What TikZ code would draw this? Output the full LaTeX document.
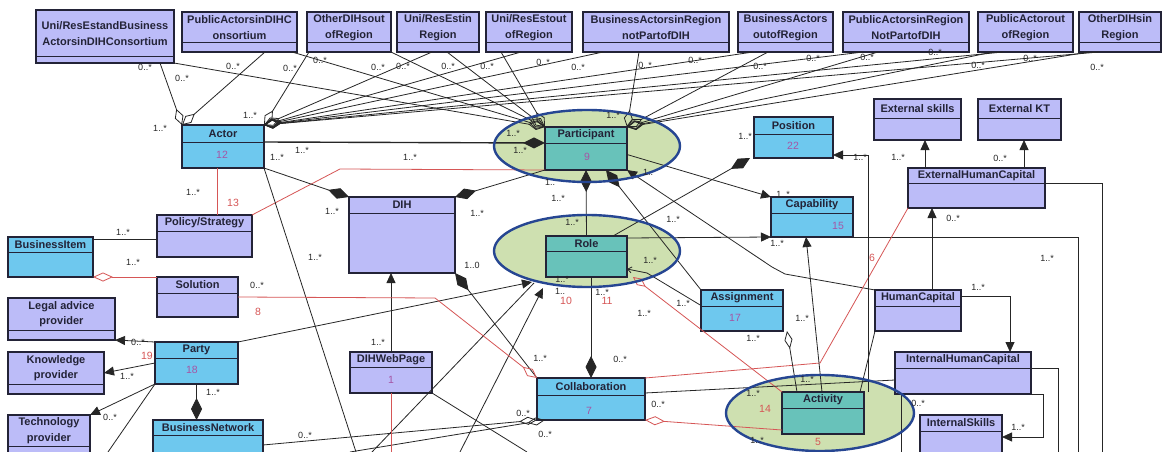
\documentclass[tikz,border=0pt]{standalone}
\usepackage{fontspec}
\setmainfont{Liberation Sans}
\usetikzlibrary{arrows.meta,calc}
\definecolor{lav}{RGB}{188,188,248}
\definecolor{cyanbox}{RGB}{110,200,238}
\definecolor{tealbox}{RGB}{104,194,186}
\definecolor{ellfill}{RGB}{206,224,176}
\definecolor{ellline}{RGB}{38,70,146}
\definecolor{redln}{RGB}{214,86,86}
\definecolor{numcol}{RGB}{165,85,165}
\definecolor{ink}{RGB}{35,35,55}
\tikzset{
  clsbox/.style={draw=ink, line width=1.1pt, inner sep=0pt, outer sep=0pt},
  clsline/.style={draw=ink, line width=1pt},
  clsttl/.style={font=\bfseries\fontsize{11}{15.5}\selectfont, text=ink, align=center, inner sep=0pt},
  mult/.style={font=\fontsize{9}{10}\selectfont, text=black!85, inner sep=1pt},
  numlbl/.style={font=\fontsize{10.5}{11}\selectfont, text=numcol},
  rednum/.style={font=\fontsize{10.5}{11}\selectfont, text=redln},
  conn/.style={draw=black!85, line width=0.8pt},
  redl/.style={draw=redln, line width=0.8pt},
  agg/.style={conn, -{Diamond[open, length=17pt, width=9pt]}},
  comp/.style={conn, -{Diamond[length=22pt, width=11pt]}},
  nav/.style={conn, -{Triangle[length=10pt, width=9pt]}},
  ell/.style={line width=2.4pt, draw=ellline},
}
\newcommand{\umlbox}[8]{%
  \node[clsbox, fill=#7, minimum width={(#4-#2)*1pt}, minimum height={(#5-#3)*1pt}, anchor=north west] (#1) at (#2,#3) {};
  \draw[clsline] (#2,#6) coordinate (#1-hl) -- (#4,#6) coordinate (#1-hr);
  \node[clsttl] (#1-t) at ({(#2+#4)/2},{(#3+#6)/2}) {#8};}
\begin{document}
\begin{tikzpicture}[x=1pt,y=-1pt]
  \useasboundingbox (0,0) rectangle (1168,452);
  \clip (0,0) rectangle (1168,452);
  \fill[white] (0,0) rectangle (1168,452);

  \fill[ellfill] (587,146) ellipse [x radius=93, y radius=36];
  \fill[ellfill] (587,251) ellipse [x radius=93, y radius=36];
  \fill[ellfill] (820,413) ellipse [x radius=94, y radius=38];

  \umlbox{t1}{36}{10}{174}{63}{57}{lav}{Uni/ResEstandBusiness\\ActorsinDIHConsortium}
  \umlbox{t2}{182}{12}{297}{52}{43}{lav}{PublicActorsinDIHC\\onsortium}
  \umlbox{t3}{307}{12}{391}{52}{43}{lav}{OtherDIHsout\\ofRegion}
  \umlbox{t4}{397}{12}{479}{52}{43}{lav}{Uni/ResEstin\\Region}
  \umlbox{t5}{486}{12}{572}{52}{43}{lav}{Uni/ResEstout\\ofRegion}
  \umlbox{t6}{583}{12}{729}{52}{43}{lav}{BusinessActorsinRegion\\notPartofDIH}
  \umlbox{t7}{738}{12}{833}{52}{43}{lav}{BusinessActors\\outofRegion}
  \umlbox{t8}{843}{12}{969}{52}{43}{lav}{PublicActorsinRegion\\NotPartofDIH}
  \umlbox{t9}{978}{12}{1073}{52}{43}{lav}{PublicActorout\\ofRegion}
  \umlbox{t10}{1079}{12}{1161}{52}{43}{lav}{OtherDIHsin\\Region}

  \umlbox{actor}{182}{125}{264}{168}{142}{cyanbox}{Actor}
  \umlbox{part}{545}{127}{627}{170}{143}{tealbox}{Participant}
  \umlbox{pos}{754}{117}{833}{158}{134}{cyanbox}{Position}
  \umlbox{cap}{771}{197}{853}{237}{213}{cyanbox}{Capability}
  \umlbox{exsk}{874}{99}{961}{140}{118}{lav}{External skills}
  \umlbox{exkt}{978}{99}{1061}{140}{118}{lav}{External KT}
  \umlbox{ehc}{908}{168}{1045}{208}{183}{lav}{ExternalHumanCapital}
  \umlbox{dih}{349}{197}{455}{273}{213}{lav}{DIH}
  \umlbox{pol}{157}{215}{252}{257}{231}{lav}{Policy/Strategy}
  \umlbox{bi}{8}{237}{93}{277}{252}{cyanbox}{BusinessItem}
  \umlbox{sol}{157}{277}{238}{317}{293}{lav}{Solution}
  \umlbox{role}{546}{236}{627}{277}{251}{tealbox}{Role}
  \umlbox{asg}{701}{290}{783}{331}{306}{cyanbox}{Assignment}
  \umlbox{hc}{875}{290}{961}{331}{306}{lav}{HumanCapital}
  \umlbox{ihc}{895}{352}{1031}{394}{368}{lav}{InternalHumanCapital}
  \umlbox{isk}{920}{415}{1002}{470}{431}{lav}{InternalSkills}
  \umlbox{legal}{8}{298}{115}{340}{330}{lav}{Legal advice\\provider}
  \umlbox{know}{8}{352}{104}{394}{384}{lav}{Knowledge\\provider}
  \umlbox{tech}{8}{415}{90}{470}{446}{lav}{Technology\\provider}
  \umlbox{party}{155}{342}{238}{384}{358}{cyanbox}{Party}
  \umlbox{bn}{153}{420}{263}{470}{435}{cyanbox}{BusinessNetwork}
  \umlbox{web}{350}{352}{432}{393}{367}{lav}{DIHWebPage}
  \umlbox{coll}{537}{378}{645}{420}{395}{cyanbox}{Collaboration}
  \umlbox{act}{782}{392}{864}{434}{408}{tealbox}{Activity}

  % actors from the top row
  \foreach \bx/\dx in {t1/124,t2/83}
    \draw[agg] ([xshift=\dx pt]\bx.south west) -- (actor.north west);
  \foreach \bx/\dx in {t3/2,t4/35,t5/35,t6/20,t7/15,t8/20,t9/25,t10/20}
    \draw[agg] ([xshift=\dx pt]\bx.south west) -- (actor.north east);
  \foreach \bx/\dx in {t1/138,t2/110,t3/84,t4/50,t5/15}
    \draw[agg] ([xshift=\dx pt]\bx.south west) -- (part.north west);
  \foreach \bx/\dx in {t6/56,t7/30,t8/35,t9/15,t10/10}
    \draw[agg] ([xshift=\dx pt]\bx.south west) -- (part.north east);

  \draw[comp, line width=1.4pt] (actor-hr) -- (part-hl);
  \draw[redl] ([xshift=-6pt]actor.south) -- ([xshift=-6pt]actor.south |- pol.north);
  \draw[redl] (pol.north east) -- (340,169) -- (part.south west);
  \draw[conn] ([yshift=-2pt]bi.north east) -- ([yshift=-2pt]bi.north east -| pol.west);
  \draw[redl, {Diamond[open, length=20pt, width=9pt]}-] (bi.south east) -- (sol.north west);
  \draw[comp] (actor.south east) -- (dih.north west);
  \coordinate (e1) at (356,452);
  \draw[conn] (actor.south east) -- (e1);
  \draw[comp] (part.south west) -- (dih.north east);
  \draw[nav] ([yshift=-6pt]part.east) -- (cap.north west);
  \draw[conn, {Diamond[length=22pt, width=11pt]}-] ([xshift=-4pt]pos.south west) -- ([xshift=-14pt]role.north east);
  \draw[comp] (role.north) -- (part.south);
  \draw[comp] (asg.north west) -- ([xshift=20pt]part.south);
  \draw[nav] (hc.north west) -- (785,274) -- (772,267) -- (part.south east);
  \draw[nav] ([yshift=-2pt]role.north east) -- (cap.south west);
  \coordinate (e2) at (1078,452);
  \draw[conn] (cap.south east) -| (e2);
  \draw[conn, -{Straight Barb[length=4pt, width=6pt]}] ([yshift=5pt]asg.west) -- (647,273) -- ([yshift=8pt]role.south east);
  \draw[comp] (role.south -| coll.north) -- (coll.north);
  \draw[comp] (coll.north west) -- (dih.south east);
  \coordinate (e3) at (372,452);
  \coordinate (e4) at (460,452);
  \draw[conn] (e3) -- ([xshift=-12pt, yshift=-6pt]role.south west);
  \draw[nav] (e4) -- ([xshift=-3pt, yshift=-11pt]role.south west);
  \draw[nav] (party.north east) -- ([xshift=-14pt, yshift=-5pt]role.south west);
  \draw[nav] (party.north west) -- (legal.south east);
  \draw[nav] (party.west) -- (know.east);
  \draw[nav] (party.south west) -- (tech.north east);
  \coordinate (e5) at (108,452);
  \draw[conn] (party.south west) -- (e5);
  \draw[comp] (party.south) -- (party.south |- bn.north);
  \draw[conn, {Diamond[open, length=18pt, width=8pt]}-] (coll.south west) -- (bn.east);
  \coordinate (e6) at (350,452);
  \draw[conn, {Diamond[open, length=18pt, width=8pt]}-] ([xshift=8pt]coll.south west) -- (e6);
  \draw[nav] (web.north) -- (web.north |- dih.south);
  \coordinate (e7) at (391,452);
  \draw[redl] (web.south) -- (e7);
  \coordinate (e8) at (527,452);
  \draw[conn] (web.south east) -- (e8);
  \draw[redl, -{Diamond[open, length=18pt, width=9pt]}] (sol.east) -- (435,298) -- (coll.north west);
  \draw[redl, {Diamond[open, length=16pt, width=8pt]}-] ([xshift=6pt]role.south east) -- (773,385) -- (act.north west);
  \draw[redl] (coll.north east) -- (820,363) -- (ehc.south west);
  \draw[redl, {Diamond[open, length=20pt, width=9pt]}-] (coll.south east) -- ([yshift=4pt]act.south west);
  \draw[conn] ([yshift=6pt]coll.east) -- ([yshift=-7pt]ihc.west);
  \draw[conn, {Diamond[open, length=18pt, width=8pt]}-] ([xshift=4pt]asg.south east) -- ([xshift=15pt]act.north west);
  \draw[nav] ([xshift=40pt]act.north west) -- ([xshift=35pt]cap.south west);
  \draw[conn] (hc.south west) -- ([xshift=-4pt]act.north east);
  \draw[nav] ([xshift=14pt]hc.north) -- ([xshift=14pt]hc.north |- ehc.south);
  \draw[nav] ([yshift=-6pt]hc.north east) -| ([xshift=-21pt]ihc.north east);
  \draw[nav] ([xshift=17pt]ehc.north west) -- ([xshift=17pt]ehc.north west |- exsk.south);
  \draw[nav] ([xshift=-21pt]ehc.north east) -- ([xshift=-21pt]ehc.north east |- exkt.south);
  \coordinate (e9) at (1102,452);
  \draw[conn] (ehc-hr) -| (e9);
  \coordinate (e10) at (1058,452);
  \draw[conn] (ihc-hr) -| (e10);
  \draw[nav] (ihc.south east) -- ++(12,0) |- ([yshift=-22pt]isk.north east);
  \draw[nav] ([xshift=4pt]act.north east) |- ([yshift=3pt]pos.south east);
  \coordinate (e11) at (901,452);
  \draw[conn] ([xshift=6pt]ihc.south west) -- (e11);

  \draw[ell] (587,146) ellipse [x radius=93, y radius=36];
  \draw[ell] (587,251) ellipse [x radius=93, y radius=36];
  \draw[ell] (820,413) ellipse [x radius=94, y radius=38];

  \node[numlbl] (n12) at (222,155) {12};
  \node[numlbl] (n9) at (587,157) {9};
  \node[numlbl] (n22) at (793,146) {22};
  \node[numlbl] (n15) at (838,226) {15};
  \node[numlbl] (n17) at (735,318) {17};
  \node[numlbl] (n18) at (192,370) {18};
  \node[numlbl] (n1) at (391,380) {1};
  \node[numlbl] (n7) at (589,411) {7};
  \node[rednum] (r13) at (233,203) {13};
  \node[rednum] (r8) at (258,312) {8};
  \node[rednum] (r10) at (566,301) {10};
  \node[rednum] (r11) at (607,301) {11};
  \node[rednum] (r19) at (147,356) {19};
  \node[rednum] (r6) at (872,258) {6};
  \node[rednum] (r14) at (765,409) {14};
  \node[rednum] (r5) at (818,442) {5};

  \foreach \x/\y/\tx [count=\i] in {
    145/67/{0..*}, 182/78/{0..*}, 233/66/{0..*}, 290/68/{0..*}, 320/60/{0..*}, 378/67/{0..*},
    403/66/{0..*}, 448/66/{0..*}, 487/66/{0..*}, 543/62/{0..*}, 578/67/{0..*}, 645/65/{0..*},
    695/60/{0..*}, 760/66/{0..*}, 813/58/{0..*}, 867/57/{0..*}, 935/52/{0..*}, 978/65/{0..*},
    1030/58/{0..*}, 1097/67/{0..*},
    250/115/{1..*}, 160/128/{1..*}, 613/115/{1..*}, 513/133/{1..*}, 520/150/{1..*}, 745/136/{1..*},
    277/157/{1..*}, 302/150/{1..*}, 410/157/{1..*},
    193/192/{1..*}, 123/232/{1..*}, 133/262/{1..*}, 257/285/{0..*}, 332/211/{1..*}, 315/257/{1..*},
    477/213/{1..*}, 550/182/{1..}, 558/198/{1..*}, 572/222/{1..*}, 673/219/{1..*}, 648/172/{1..},
    472/265/{1..0}, 650/260/{1..*}, 562/279/{1..*}, 560/291/{1..}, 602/292/{1..*}, 644/313/{1..*},
    683/303/{1..*}, 753/338/{1..*}, 802/318/{1..*},
    860/157/{1..*}, 898/157/{1..*}, 1000/158/{0..*}, 783/194/{1..*}, 777/243/{1..*}, 953/218/{0..*},
    1047/258/{1..*}, 978/287/{1..*},
    138/342/{0..*}, 127/376/{1..*}, 110/417/{0..*}, 213/392/{1..*}, 305/435/{0..*},
    378/342/{1..*}, 540/358/{1..*}, 620/359/{0..*}, 523/413/{0..*}, 545/434/{0..*}, 658/404/{0..*},
    753/393/{1..*}, 807/379/{1..*}, 757/440/{1..*}, 918/403/{0..*}, 1018/427/{1..*}}
    \node[mult] (m\i) at (\x,\y) {\tx};
\end{tikzpicture}
\end{document}
